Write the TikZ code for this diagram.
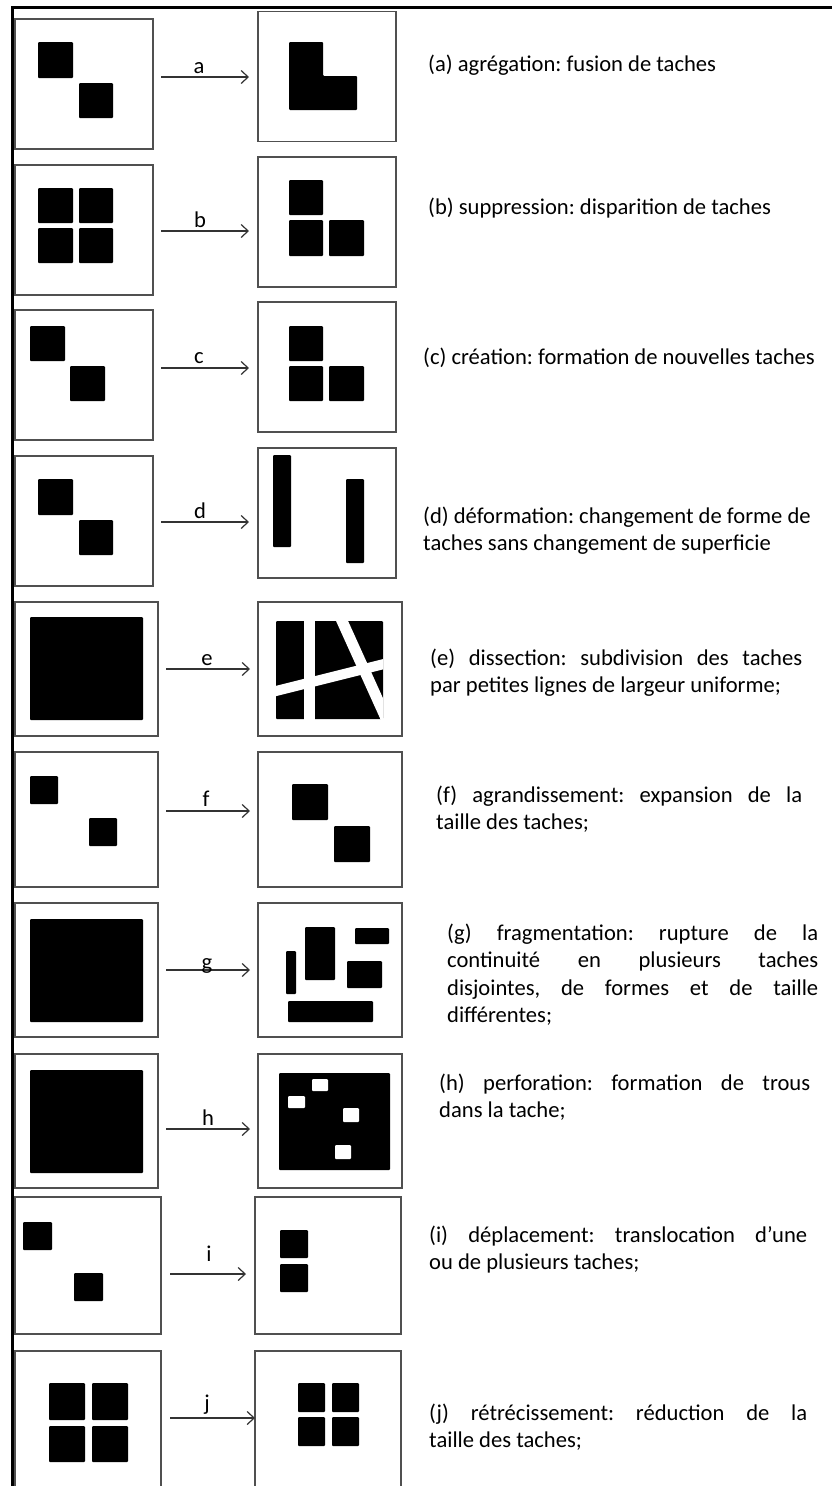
\documentclass[tikz,border=0pt]{standalone}
\usepackage{fontspec}
\setmainfont{Carlito}
\usetikzlibrary{arrows.meta}
\tikzset{>={Straight Barb[length=7pt,width=13pt]}}
\definecolor{cadregris}{RGB}{80,80,80}
\tikzset{
  cadre/.style={draw=cadregris, line width=1.5pt, inner sep=0pt},
  tache/.style={fill=black, rounded corners=1pt},
  fleche/.style={->, line width=1.2pt, draw=black!80},
  lettre/.style={anchor=base, inner sep=0pt, font=\fontsize{22.6}{27.5}\selectfont},
  legende/.style={anchor=base west, inner sep=0pt, align=justify, font=\fontsize{22.6}{27.5}\selectfont}
}
\hyphenpenalty=10000
\exhyphenpenalty=10000
\frenchspacing

\begin{document}
\begin{tikzpicture}[x=1pt, y=-1pt]
  \useasboundingbox (0,0) rectangle (832,1486);
  \draw[line width=3pt] (12,1486) -- (12,7) -- (832,7);

  % cadres
  \foreach \n/\cx/\cy/\w/\h in {a0/84/84/138/130, a1/327/76.5/138/130,
      b0/84/230/138/130, b1/327/222/138/130,
      c0/84/375/138/130, c1/327/367/138/130,
      d0/84/521/138/130, d1/327/513/138/130,
      e0/86.5/669/143/134, e1/330/669/144/134,
      f0/86.5/819.5/143/135, f1/330/819.5/144/135,
      g0/86.5/970/143/134, g1/330/970/144/134,
      h0/86.5/1121/143/134, h1/330/1121/144/134,
      i0/88/1265.5/146/137, i1/328/1265.5/146/137,
      j0/88/1419.5/146/137, j1/328/1419.5/146/137}
    \node[cadre, minimum width=\w, minimum height=\h] (\n) at (\cx,\cy) {};

  % taches
  \foreach \xa/\ya/\xb/\yb in {38/42/73/78, 79/83/113/118,
      38/188/73/223, 79/188/113/223, 38/228/73/263, 79/228/113/263,
      289/180/323/215, 289/220/323/256, 329/220/364/256,
      30/326/65/361, 70/366/105/401,
      289/326/323/361, 289/366/323/401, 329/366/364/401,
      38/479/73/515, 79/520/113/555, 273/455/291/547, 346/479/364/563,
      30/617/143/720,
      30/776/58/804, 89/818/117/846, 292/784/328/820, 334/826/370/862,
      30/919/143/1022,
      286/951/296/994, 305/927/335/980, 355/928/389/944, 347/961/382/988, 288/1001/373/1022,
      30/1070/143/1173, 279/1073/390/1170,
      23/1222/52/1250, 74/1273/103/1301, 280/1230/308/1258, 280/1264/308/1292,
      49/1383/85/1420, 92/1383/128/1420, 49/1426/85/1462, 92/1426/128/1462,
      298/1383/325/1412, 332/1383/359/1412, 298/1417/325/1446, 332/1417/359/1446}
    \fill[tache] (\xa,\ya) rectangle (\xb,\yb);
  \fill[tache] (289,42) -- (323,42) -- (323,76) -- (357,76) -- (357,110) -- (289,110) -- cycle;
  \begin{scope}
    \clip (276,621) rectangle (383,719);
    \fill[tache] (276,621) rectangle (383,719);
    \draw[white, line width=11pt] (309,610) -- (309,730);
    \draw[white, line width=10pt] (270,692.5) -- (390,662.5);
    \draw[white, line width=11pt] (338,612) -- (390,727);
  \end{scope}
  \foreach \xa/\ya/\xb/\yb in {312/1079/328/1091, 288/1096/305/1108, 343/1108/359/1122, 335/1145/351/1159}
    \fill[white, rounded corners=1pt] (\xa,\ya) rectangle (\xb,\yb);

  % fleches
  \foreach \l/\xa/\xb/\y/\lx/\ly in {a/161/249/77/199/73, b/161/249/231/200/227,
      c/161/249/368/199/363, d/161/249/522/200/518, e/166/250/669/207/665,
      f/166/250/811/206/806, g/166/250/970/207/969, h/166/250/1129/208/1125,
      i/170/246/1274/209/1261, j/170/255/1418/207/1410}
  {
    \coordinate (s\l) at (\xa,\y);
    \coordinate (e\l) at (\xb,\y);
    \draw[fleche] (s\l) -- (e\l);
    \node[lettre] (l\l) at (\lx,\ly) {\l};
  }

  % legendes
  \node[legende] (ta) at (428,71) {(a) agrégation: fusion de taches};
  \node[legende] (tb) at (428,214) {(b) suppression: disparition de taches};
  \node[legende] (tc) at (423,364) {(c) création: formation de nouvelles taches};
  \node[legende, text width=400] (td) at (423,523) {(d) déformation: changement de forme de\\ taches sans changement de superficie};
  \node[legende, text width=372] (te) at (430,665) {(e) dissection: subdivision des taches\linebreak par petites lignes de  largeur uniforme;};
  \node[legende, text width=366] (tf) at (436,802) {(f) agrandissement: expansion de la\linebreak taille des taches;};
  \node[legende, text width=371] (tg) at (447,940) {(g) fragmentation: rupture de la\linebreak continuité en plusieurs taches\linebreak disjointes, de formes et de taille\linebreak différentes;};
  \node[legende, text width=371] (th) at (439,1090) {(h) perforation: formation de trous\linebreak dans la tache;};
  \node[legende, text width=378] (ti) at (429,1242) {(i) déplacement: translocation d’une\linebreak ou de plusieurs taches;};
  \node[legende, text width=378] (tj) at (429,1420) {(j) rétrécissement: réduction de la\linebreak taille des taches;};
\end{tikzpicture}
\end{document}
